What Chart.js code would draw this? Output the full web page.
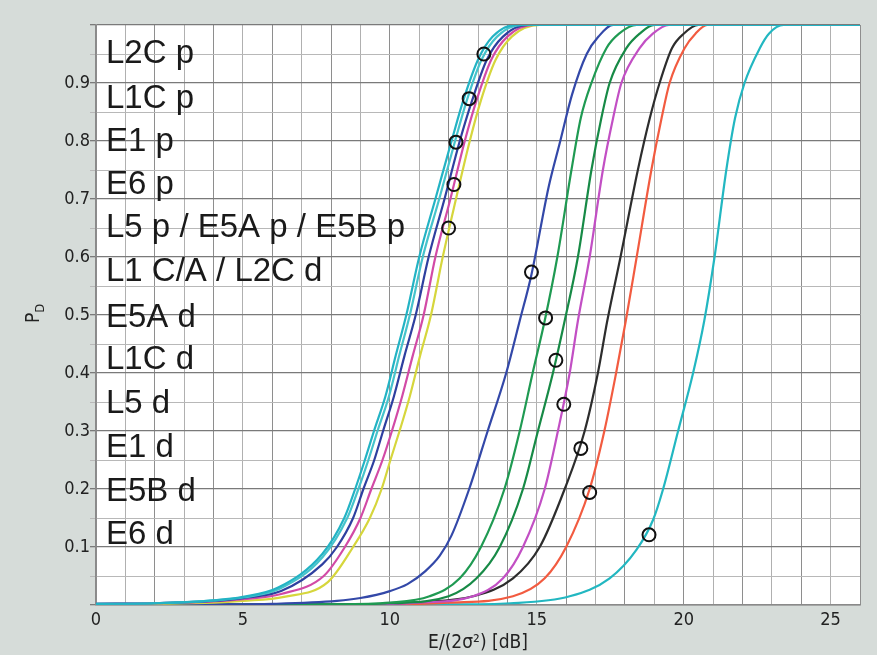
<!DOCTYPE html>
<html>
<head>
<meta charset="utf-8">
<script src="https://cdn.jsdelivr.net/npm/chart.js@4.4.1/dist/chart.umd.min.js"></script>
<style>
html,body{margin:0;padding:0;background:#d6dcd9;}
#wrap{width:877px;height:655px;position:relative;}
</style>
</head>
<body>
<div id="wrap"><canvas id="c" width="877" height="655"></canvas></div>
<script>
// ---- data (x in dB, y = detection probability) ----
const seriesNames = ['L2C p','L1C p','E1 p','E6 p','L5 p / E5A p / E5B p','L1 C/A / L2C d','E5A d','L1C d','L5 d','E1 d','E5B d','E6 d'];

const curveL2Cp = [[0,0.002],[2,0.003],[4,0.008],[5,0.014],[6.2,0.03],[7.7,0.088],[8.45,0.15],[8.82,0.2],[9.15,0.25],[9.46,0.3],[9.85,0.36],[10.2,0.43],[10.56,0.5],[11.0,0.6],[11.55,0.7],[12.1,0.8],[12.5,0.87],[13.0,0.94],[13.5,0.98],[14.3,1],[26,1]];
const curveL1Cp = [[0,0.002],[2,0.003],[4,0.008],[5,0.013],[6.25,0.028],[7.7,0.082],[8.55,0.15],[8.93,0.2],[9.27,0.25],[9.58,0.3],[9.97,0.36],[10.32,0.43],[10.68,0.5],[11.12,0.6],[11.68,0.7],[12.22,0.8],[12.62,0.87],[13.12,0.94],[13.65,0.98],[14.5,1],[26,1]];
const curveE1p  = [[0,0.002],[2,0.003],[4,0.007],[5,0.012],[6.3,0.024],[7.7,0.07],[8.2,0.1],[8.75,0.15],[9.1,0.2],[9.47,0.25],[9.77,0.3],[10.14,0.36],[10.5,0.43],[10.88,0.5],[11.32,0.6],[11.86,0.7],[12.38,0.8],[12.8,0.87],[13.3,0.94],[13.85,0.98],[14.7,1],[26,1]];
const curveE6p  = [[0,0.002],[2,0.003],[4,0.006],[5,0.01],[6.3,0.019],[7.75,0.05],[8.47,0.1],[9.0,0.15],[9.37,0.2],[9.75,0.25],[10.07,0.3],[10.42,0.36],[10.78,0.43],[11.15,0.5],[11.55,0.6],[12.06,0.7],[12.55,0.8],[12.95,0.87],[13.45,0.94],[14.0,0.98],[14.9,1],[26,1]];
const curveL5p  = [[0,0.001],[2,0.002],[4,0.004],[5,0.007],[6.4,0.014],[7.9,0.04],[8.75,0.1],[9.32,0.15],[9.72,0.2],[10.02,0.25],[10.33,0.3],[10.68,0.36],[11.03,0.43],[11.4,0.5],[11.8,0.6],[12.25,0.7],[12.72,0.8],[13.1,0.87],[13.6,0.94],[14.15,0.98],[15.1,1],[26,1]];
const curveL1CAd = [[0,0],[4,0.001],[6,0.002],[8.2,0.007],[9,0.012],[10,0.024],[10.6,0.036],[11.2,0.058],[11.7,0.085],[12.1,0.12],[12.7,0.2],[13.33,0.3],[13.96,0.4],[14.42,0.49],[14.82,0.57],[15.4,0.72],[15.8,0.8],[16.2,0.88],[16.7,0.95],[17.1,0.98],[17.6,1],[26,1]];
const curveE5Ad = [[0,0],[8,0.001],[10,0.004],[11.35,0.015],[12.38,0.046],[13.1,0.1],[13.9,0.2],[14.42,0.3],[14.86,0.4],[15.27,0.49],[15.7,0.6],[16.18,0.75],[16.5,0.84],[16.86,0.9],[17.37,0.96],[17.8,0.985],[18.4,1],[26,1]];
const curveL1Cd = [[0,0],[8,0.001],[10,0.003],[12.0,0.015],[12.95,0.046],[13.74,0.1],[14.53,0.2],[15.04,0.3],[15.55,0.4],[15.95,0.49],[16.4,0.6],[16.86,0.75],[17.2,0.84],[17.48,0.9],[18.05,0.96],[18.5,0.985],[19.0,1],[26,1]];
const curveL5d  = [[0,0],[9,0.001],[11,0.004],[12.83,0.015],[13.85,0.046],[14.53,0.1],[15.27,0.2],[15.72,0.3],[16.12,0.4],[16.4,0.49],[16.8,0.6],[17.25,0.75],[17.6,0.84],[17.88,0.9],[18.5,0.96],[18.95,0.985],[19.5,1],[26,1]];
const curveE1d  = [[0,0],[9,0.001],[11,0.005],[12.83,0.015],[14.19,0.046],[15.1,0.1],[15.95,0.2],[16.63,0.3],[17.08,0.4],[17.4,0.49],[17.85,0.6],[18.44,0.75],[18.85,0.84],[19.18,0.9],[19.6,0.96],[20.0,0.985],[20.5,1],[26,1]];
const curveE5Bd = [[0,0],[10,0.001],[12,0.004],[14.19,0.015],[15.27,0.046],[16.0,0.1],[16.8,0.2],[17.3,0.3],[17.7,0.4],[18.03,0.49],[18.4,0.6],[18.9,0.75],[19.25,0.84],[19.52,0.9],[20.03,0.96],[20.4,0.985],[20.8,1],[26,1]];
const curveE6d  = [[0,0],[12,0.001],[14.1,0.003],[16.12,0.015],[17.48,0.046],[18.39,0.095],[18.96,0.147],[19.3,0.2],[19.81,0.3],[20.32,0.4],[20.7,0.49],[21.05,0.6],[21.45,0.75],[21.75,0.84],[22.07,0.9],[22.59,0.96],[22.9,0.985],[23.4,1],[26,1]];

const markerX = [13.2,12.7,12.25,12.18,12.0,14.82,15.3,15.65,15.92,16.5,16.8,18.82];
const markerY = [0.95,0.873,0.798,0.725,0.65,0.574,0.495,0.422,0.346,0.27,0.194,0.121];

const xTickLabels = [0,5,10,15,20,25];
const yTickLabels = [0.1,0.2,0.3,0.4,0.5,0.6,0.7,0.8,0.9];

// ---- styles ----
const curves = [curveL2Cp,curveL1Cp,curveE1p,curveE6p,curveL5p,curveL1CAd,curveE5Ad,curveL1Cd,curveL5d,curveE1d,curveE5Bd,curveE6d];
const colors = ['#23b3c4','#45c3cc','#2e3f9f','#d24aa6','#d6d63c','#3348a8','#1f9a52','#178a46','#c24fc4','#2d2d2d','#f25b40','#22b7c1'];

const TICK_FONT = "'DejaVu Sans Condensed','Liberation Sans Narrow','DejaVu Sans',sans-serif";

const datasets = curves.map((c,i)=>({
  label: seriesNames[i],
  data: c.map(p=>({x:p[0],y:p[1]})),
  borderColor: colors[i],
  backgroundColor: colors[i],
  borderWidth: 2.2,
  pointRadius: 0,
  fill: false,
  cubicInterpolationMode: 'monotone',
  order: 2
}));
datasets.push({
  type: 'scatter',
  label: 'markers',
  data: markerX.map((x,i)=>({x:x,y:markerY[i]})),
  showLine: false,
  pointRadius: 6.5,
  pointHoverRadius: 6.5,
  pointBorderWidth: 2,
  pointBorderColor: '#111',
  pointBackgroundColor: 'rgba(0,0,0,0)',
  order: 1
});

const bgPlugin = {
  id: 'bg',
  beforeDraw(chart){
    const {ctx, chartArea:a} = chart;
    ctx.save();
    ctx.fillStyle = '#d6dcd9';
    ctx.fillRect(0,0,chart.width,chart.height);
    ctx.fillStyle = '#ffffff';
    ctx.fillRect(a.left,a.top,a.right-a.left,a.bottom-a.top);
    ctx.restore();
  }
};

const labelPlugin = {
  id: 'labels',
  afterDraw(chart){
    const {ctx, chartArea:a, scales} = chart;
    ctx.save();
    // in-plot labels
    ctx.fillStyle = '#1a1a1a';
    ctx.font = "33px 'Liberation Sans', Arial, sans-serif";
    ctx.textAlign = 'left';
    ctx.textBaseline = 'alphabetic';
    seriesNames.forEach((n,i)=>{
      ctx.fillText(n, a.left + 10, scales.y.getPixelForValue(markerY[i]) + 9);
    });
    // y axis title P_D
    ctx.translate(36, scales.y.getPixelForValue(0.5));
    ctx.rotate(-Math.PI/2);
    ctx.fillStyle = '#222';
    ctx.textAlign = 'left';
    ctx.textBaseline = 'middle';
    ctx.font = "19px " + TICK_FONT;
    const wP = ctx.measureText('P').width;
    ctx.fillText('P', -8, -2);
    ctx.font = "13px " + TICK_FONT;
    ctx.fillText('D', -8 + wP, 5);
    ctx.restore();
  }
};

const isMultiple = (v, step) => Math.abs(Math.round(v/step)*step - v) < 1e-6;

new Chart(document.getElementById('c'), {
  type: 'line',
  data: { datasets },
  plugins: [bgPlugin, labelPlugin],
  options: {
    responsive: false,
    animation: false,
    events: [],
    layout: { padding: { left: 0, right: 17, top: 25, bottom: 0 } },
    plugins: { legend: { display: false }, tooltip: { enabled: false } },
    scales: {
      x: {
        type: 'linear', min: 0, max: 26,
        afterFit(s){ s.height = 50; },
        ticks: {
          stepSize: 1, autoSkip: false, maxRotation: 0, padding: 5,
          color: '#222', font: { family: TICK_FONT, size: 18 },
          callback: v => xTickLabels.includes(v) ? String(v) : ''
        },
        grid: {
          drawTicks: false,
          color: ctx => isMultiple(ctx.tick.value, 2) ? '#8e8e8e' : '#b0b0b0',
          lineWidth: 1
        },
        border: { display: true, color: '#8a8a8a', width: 1.5 },
        title: {
          display: true, text: 'E/(2σ²) [dB]', color: '#222',
          font: { family: TICK_FONT, size: 19 }, padding: { top: 0, bottom: 1 }
        }
      },
      y: {
        type: 'linear', min: 0, max: 1,
        afterFit(s){ s.width = 96; },
        ticks: {
          stepSize: 0.05, autoSkip: false, padding: 0,
          color: '#222', font: { family: TICK_FONT, size: 18 },
          callback: v => {
            const r = Math.round(v*100)/100;
            return yTickLabels.some(t => Math.abs(t - r) < 1e-6) ? r.toFixed(1) : '';
          }
        },
        grid: {
          drawTicks: true, tickLength: 6,
          color: ctx => isMultiple(ctx.tick.value, 0.1) ? '#7a7a7a' : '#b8b8b8',
          lineWidth: ctx => isMultiple(ctx.tick.value, 0.1) ? 1.3 : 1
        },
        border: { display: true, color: '#8a8a8a', width: 1.5 }
      }
    }
  }
});
</script>
</body>
</html>
